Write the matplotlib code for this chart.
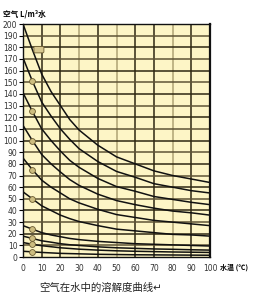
import matplotlib
matplotlib.use('Agg')
import matplotlib.pyplot as plt

# 水温 (℃)
temps = [0, 5, 10, 15, 20, 25, 30, 40, 50, 60, 70, 80, 90, 100]

# 各压力下空气溶解量 (L/m3)
c1 = [200, 178, 157, 142, 130, 118, 109, 96, 86, 80, 74, 70, 67, 64]
c2 = [171, 151, 133, 121, 110, 101, 93, 82, 73.5, 68.5, 63, 60, 57, 55]
c3 = [141, 125, 110, 100, 91, 83, 77, 67.5, 60.5, 56.5, 52, 49.5, 47, 45]
c4 = [113, 100, 88, 80, 73, 66.5, 61.5, 54, 48.5, 45, 42, 39.5, 38, 36]
c5 = [85, 75, 66, 60, 55, 50, 46.5, 41, 36.5, 34, 31.5, 30, 28.5, 27]
c6 = [56, 50, 44, 40, 36, 33, 30.5, 27, 24, 22.5, 21, 19.5, 19, 18]
c7 = [27, 24, 21, 19, 17.5, 16, 15, 13.5, 12.5, 11.5, 11, 10.5, 10, 9.5]
c8 = [18, 16, 14, 12.8, 11.5, 10.6, 10, 8.8, 8, 7.5, 7, 6.7, 6.3, 6]
c9 = [12.5, 11, 9.8, 8.9, 8, 7.4, 6.8, 6, 5.4, 5, 4.7, 4.4, 4.2, 4]
c10 = [5, 4.5, 4, 3.6, 3.2, 3, 2.8, 2.4, 2.2, 2, 1.9, 1.8, 1.7, 1.6]
curves = [c1, c2, c3, c4, c5, c6, c7, c8, c9, c10]

x_ticks = list(range(0, 101, 10))
y_ticks = list(range(0, 201, 10))

cjk = ['Noto Sans CJK SC', 'DejaVu Sans']

fig = plt.figure(figsize=(2.63, 3.0), dpi=100)
ax = fig.add_axes([0.0875, 0.143, 0.711, 0.777])
ax.set_facecolor('#fdf5c6')

# 网格
for x in x_ticks[1:-1]:
    c = '#b0a474' if x in (30, 50, 80) else '#2e2812'
    ax.axvline(x, color=c, lw=1.1, zorder=1)
for y in y_ticks[1:-1]:
    c = '#2e2812' if y % 20 == 0 else '#5e5436'
    ax.axhline(y, color=c, lw=1.1, zorder=1)

# 曲线
for cv in curves:
    ax.plot(temps, cv, color='#111111', lw=1.1, zorder=3)

# 标记点 (5℃)
for cv in curves[1:]:
    ax.plot(temps[1], cv[1], 'o', ms=4.2, mfc='#cdbd80', mec='#6a5a30', mew=0.6, zorder=4)
ax.text(8.5, c1[1], '      ', fontsize=3, va='center', ha='center', zorder=5,
        bbox=dict(boxstyle='round,pad=0.3', fc='#d8c890', ec='#6a5a30', lw=0.6))

ax.set_xlim(0, 100)
ax.set_ylim(0, 200)
ax.set_xticks(x_ticks)
ax.set_yticks(y_ticks)
ax.tick_params(axis='x', length=0, labelsize=5.5, labelcolor='#333333', pad=5)
ax.tick_params(axis='y', length=3, width=0.8, labelsize=5.5, labelcolor='#333333', pad=1)
for s in ax.spines.values():
    s.set_color('#111111')
ax.spines['left'].set_linewidth(1.0)
ax.spines['right'].set_linewidth(1.6)
ax.spines['top'].set_linewidth(1.0)
ax.spines['bottom'].set_linewidth(1.0)

fig.text(0.01, 0.955, '空气 L/m³水', family=cjk, fontsize=5.5, fontweight='bold', va='center')
fig.text(0.835, 0.111, '水温 (℃)', family=cjk, fontsize=5, fontweight='bold', va='center')
fig.text(0.148, 0.04, '空气在水中的溶解度曲线↵', family=cjk, fontsize=7.5, color='#222222', va='center')

fig.savefig('out.png', dpi=100)
